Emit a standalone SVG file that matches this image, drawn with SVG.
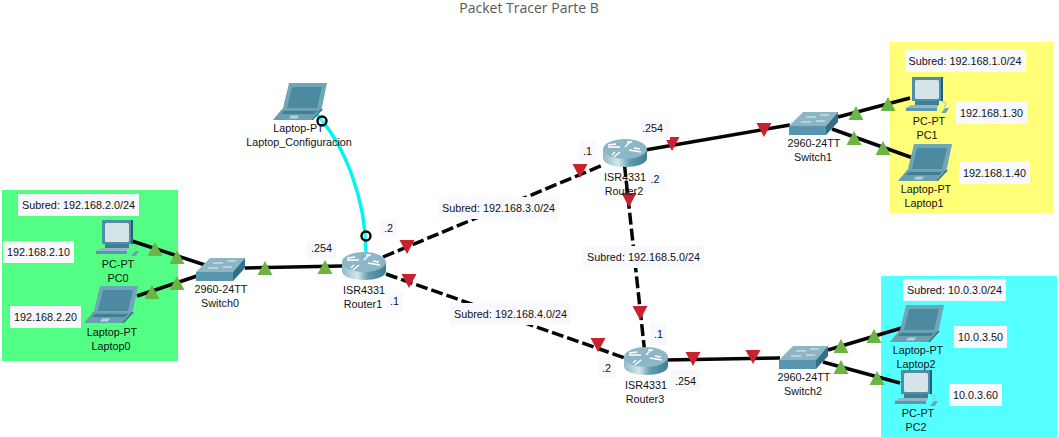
<svg xmlns="http://www.w3.org/2000/svg" width="1059" height="437" viewBox="0 0 1059 437">
<style>
text{font-family:"Liberation Sans",Arial,sans-serif;font-size:10.8px;fill:#111;text-anchor:middle}
.title{font-family:"Open Sans","Noto Sans",sans-serif;font-size:14px;fill:#595959}
.lb{fill:#f8f9ff}
.solid{stroke:#050505;stroke-width:3.5;fill:none}
.dash{stroke:#050505;stroke-width:3.5;fill:none;stroke-dasharray:12 4}
.up{fill:#6cb444}
.down{fill:#c9222f}
.cable{stroke:#00f4f4;stroke-width:3.4;fill:none}
.ring{fill:#fff;stroke:#050505;stroke-width:2.4;fill-opacity:.25}
</style>
<defs>
<linearGradient id="rg" x1="0" x2="1" y1="0" y2="0"><stop offset="0" stop-color="#8dbac8"/><stop offset=".35" stop-color="#d4e6ea"/><stop offset=".6" stop-color="#5f9db0"/><stop offset="1" stop-color="#3f7f94"/></linearGradient>
<polygon id="tu" points="-7.500,7 7.500,7 0,-7"/>
<polygon id="td" points="-7.500,-7 7.500,-7 0,7"/>
<g id="router">
<path d="M0,10 V19 C0,31 44,31 44,19 V10 Z" fill="url(#rg)"/>
<ellipse cx="22" cy="10" rx="22" ry="10" fill="#8db7c6"/>
<path d="M5,8 L17,8 M13,5 L5,6 M27,3 L22,8 M24,3 L29,3 M26,11 L38,13 M31,9 L37,10 M17,13 L11,18 M12,13 L9,16" stroke="#fff" stroke-width="1.4" fill="none"/>
</g>
<g id="switch">
<path d="M0,14 L14,0 H49 L37,14 Z" fill="#8db5c4"/>
<path d="M0,14 H37 V23 H0 Z" fill="#5796ae"/>
<path d="M37,14 L49,0 V10 L37,23 Z" fill="#31708a"/>
<path d="M17,5 H27 M31,3 H40 M12,10 H22 M27,9 H36" stroke="#e6f0f4" stroke-width="1.1" fill="none"/>
</g>
<g id="pc">
<path d="M6,0 H37 V24 H6 Z" fill="#4f8ea6"/>
<path d="M35,0 H37 V24 H35 Z" fill="#1f6078"/>
<rect x="9" y="3" width="24" height="19" rx="1.500" fill="#d6e4ea"/>
<path d="M9,24 H33 V28 H9 Z" fill="#3e7f96"/>
<path d="M5,28 H33 L31,31 H0 Z" fill="#8eb8c6"/>
<path d="M0,31 H31 V34 H0 Z" fill="#5a97ad"/>
<path d="M35,36 L39,31 H43 L40,36 Z" fill="#6ea4b6"/>
<path d="M38,30 C42,26 40,25 36,25" stroke="#8eb8c6" fill="none"/>
</g>
<g id="laptop">
<path d="M16,0 H54 L48,29 H9 Z" fill="#6fa6b8"/>
<path d="M19,4 H49 L44,25 H14 Z" fill="#4c8aa2"/>
<path d="M9,26 H48 L38,37 H0 Z" fill="#6a9fb2"/>
<path d="M48,26 L50,26 L40,37 H38 Z" fill="#2e6f88"/>
<path d="M11,28 H44 L41,31 H8 Z" fill="#3f7f96"/>
<path d="M18,32.500 H26 L24,35.500 H16 Z" fill="#b5d2dc"/>
</g>
</defs>

<text class="title" x="529" y="13">Packet Tracer Parte B</text>

<g id="zones">
<rect x="2" y="190" width="176" height="171" fill="#52ff84"/>
<rect x="889.500" y="42" width="163.500" height="171" fill="#ffff78"/>
<rect x="881" y="276" width="176" height="161" fill="#54ffff"/>
</g>

<g id="connectors">
<line class="solid" x1="132" y1="241" x2="205" y2="265"/>
<line class="solid" x1="137" y1="296" x2="197" y2="276"/>
<line class="solid" x1="245" y1="268" x2="342" y2="266"/>
<line class="dash" x1="383" y1="257" x2="603" y2="165"/>
<line class="dash" x1="386" y1="274" x2="625" y2="358"/>
<line class="dash" x1="624.500" y1="165" x2="644.500" y2="350"/>
<line class="solid" x1="645" y1="150" x2="790" y2="125"/>
<line class="solid" x1="665" y1="360" x2="780" y2="358"/>
<line class="solid" x1="838" y1="117" x2="910" y2="98"/>
<line class="solid" x1="832" y1="129" x2="913" y2="158"/>
<line class="solid" x1="828" y1="350" x2="905" y2="327"/>
<line class="solid" x1="823" y1="362" x2="900" y2="383"/>
<path class="cable" d="M317,115 C345,145 366,200 366,253"/>
<circle class="ring" cx="322" cy="121" r="4.500"/>
<circle class="ring" cx="366" cy="236" r="4.500"/>
<use href="#tu" class="up" x="155" y="249"/>
<use href="#tu" class="up" x="177" y="257"/>
<use href="#tu" class="up" x="152" y="292"/>
<use href="#tu" class="up" x="177" y="283"/>
<use href="#tu" class="up" x="265" y="268"/>
<use href="#tu" class="up" x="325" y="267"/>
<use href="#tu" class="up" x="856" y="113"/>
<use href="#tu" class="up" x="888" y="104"/>
<use href="#tu" class="up" x="854" y="138"/>
<use href="#tu" class="up" x="883" y="148"/>
<use href="#tu" class="up" x="841" y="346"/>
<use href="#tu" class="up" x="874" y="336"/>
<use href="#tu" class="up" x="841" y="367"/>
<use href="#tu" class="up" x="877" y="378"/>
<use href="#td" class="down" x="407" y="247"/>
<use href="#td" class="down" x="580" y="171"/>
<use href="#td" class="down" x="409" y="281"/>
<use href="#td" class="down" x="598" y="345"/>
<use href="#td" class="down" x="629" y="200"/>
<use href="#td" class="down" x="640" y="313"/>
<use href="#td" class="down" x="672" y="144"/>
<use href="#td" class="down" x="764" y="130"/>
<use href="#td" class="down" x="693" y="359"/>
<use href="#td" class="down" x="753" y="357"/>
</g>

<g id="Laptop_Configuracion"><use href="#laptop" x="273" y="83"/><text x="298.500" y="132">Laptop-PT</text><text x="299" y="146">Laptop_Configuracion</text></g>
<g id="PC0"><use href="#pc" x="96" y="220"/><text x="118" y="268">PC-PT</text><text x="118" y="282">PC0</text></g>
<g id="Laptop0"><use href="#laptop" x="84" y="286"/><text x="112" y="336">Laptop-PT</text><text x="111" y="350">Laptop0</text></g>
<g id="Switch0"><use href="#switch" x="196" y="258"/><text x="221" y="293">2960-24TT</text><text x="220" y="307">Switch0</text></g>
<g id="Router1"><use href="#router" x="342" y="252"/><text x="364" y="294">ISR4331</text><text x="363" y="308">Router1</text></g>
<g id="Router2"><use href="#router" x="603" y="139"/><text x="625" y="181">ISR4331</text><text x="624" y="195">Router2</text></g>
<g id="Router3"><use href="#router" x="624" y="347"/><text x="646" y="389">ISR4331</text><text x="645" y="403">Router3</text></g>
<g id="Switch1"><use href="#switch" x="789" y="112"/><text x="814" y="147">2960-24TT</text><text x="813" y="161">Switch1</text></g>
<g id="Switch2"><use href="#switch" x="779" y="346"/><text x="804" y="381">2960-24TT</text><text x="803" y="395">Switch2</text></g>
<g id="PC1"><use href="#pc" x="906" y="77"/><text x="929" y="125">PC-PT</text><text x="927" y="139">PC1</text></g>
<g id="Laptop1"><use href="#laptop" x="898" y="144"/><text x="926" y="193">Laptop-PT</text><text x="924" y="207">Laptop1</text></g>
<g id="Laptop2"><use href="#laptop" x="890" y="305"/><text x="918" y="354">Laptop-PT</text><text x="916" y="368">Laptop2</text></g>
<g id="PC2"><use href="#pc" x="895" y="370"/><text x="918" y="417">PC-PT</text><text x="916" y="431">PC2</text></g>

<g id="labels">
<rect class="lb" x="18" y="194" width="121" height="22"/><text x="78.500" y="209">Subred: 192.168.2.0/24</text>
<rect class="lb" x="3" y="241" width="71" height="22"/><text x="38.500" y="256">192.168.2.10</text>
<rect class="lb" x="10" y="306" width="71" height="22"/><text x="45.500" y="321">192.168.2.20</text>
<rect class="lb" x="905" y="50" width="121" height="22"/><text x="965" y="65">Subred: 192.168.1.0/24</text>
<rect class="lb" x="956" y="102" width="71" height="22"/><text x="991.500" y="117">192.168.1.30</text>
<rect class="lb" x="959" y="162" width="71" height="22"/><text x="994.500" y="177">192.168.1.40</text>
<rect class="lb" x="903" y="279" width="103" height="22"/><text x="954.500" y="294">Subred: 10.0.3.0/24</text>
<rect class="lb" x="954" y="326" width="53" height="22"/><text x="980.500" y="341">10.0.3.50</text>
<rect class="lb" x="949" y="384" width="53" height="22"/><text x="975.500" y="399">10.0.3.60</text>
<rect class="lb" x="438" y="197" width="121" height="22"/><text x="498.500" y="212">Subred: 192.168.3.0/24</text>
<rect class="lb" x="450" y="303" width="121" height="22"/><text x="510.500" y="318">Subred: 192.168.4.0/24</text>
<rect class="lb" x="583" y="246" width="121" height="22"/><text x="643.500" y="261">Subred: 192.168.5.0/24</text>
<rect class="lb" x="307" y="241" width="29" height="18"/><text x="321.500" y="252">.254</text>
<rect class="lb" x="380" y="219" width="17" height="18"/><text x="388.500" y="232">.2</text>
<rect class="lb" x="386" y="291" width="17" height="20"/><text x="394.500" y="305">.1</text>
<rect class="lb" x="579" y="141" width="17" height="20"/><text x="587.500" y="155">.1</text>
<rect class="lb" x="641" y="120" width="29" height="20"/><text x="652.500" y="132">.254</text>
<rect class="lb" x="648" y="170" width="17" height="18"/><text x="655" y="183">.2</text>
<rect class="lb" x="650" y="323" width="17" height="22"/><text x="658.500" y="338">.1</text>
<rect class="lb" x="598" y="358" width="17" height="20"/><text x="606.500" y="372">.2</text>
<rect class="lb" x="671" y="370" width="29" height="21"/><text x="685.500" y="385">.254</text>
</g>
</svg>
